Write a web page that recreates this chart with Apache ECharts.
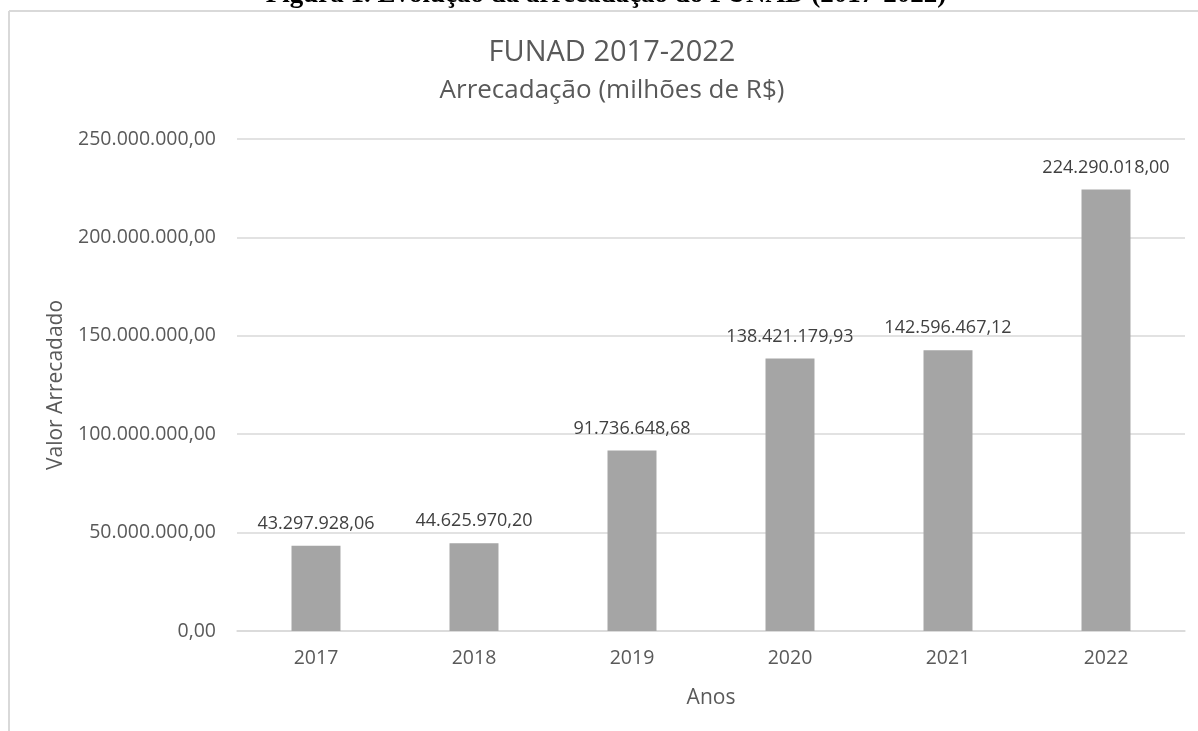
<!DOCTYPE html>
<html><head><meta charset="utf-8">
<script src="https://cdn.jsdelivr.net/npm/echarts@6/dist/echarts.min.js"></script>
<style>html,body{margin:0;padding:0;background:#fff}#c{width:1198px;height:731px}</style>
</head><body><div id="c"></div>
<script>
var categories = ['2017','2018','2019','2020','2021','2022'];
var values = [43297928.06, 44625970.20, 91736648.68, 138421179.93, 142596467.12, 224290018.00];
var yTicks = [0, 50000000, 100000000, 150000000, 200000000, 250000000];

function fmt(v){
  var s = v.toFixed(2).split('.');
  return s[0].replace(/\B(?=(\d{3})+(?!\d))/g,'.') + ',' + s[1];
}
var font = '"Open Sans", "Noto Sans", sans-serif';
var chart = echarts.init(document.getElementById('c'));
chart.setOption({
  animation:false,
  graphic:[
    {type:'text', x:606, y:-5, style:{text:'Figura 1. Evolução da arrecadação do FUNAD (2017-2022)', font:'bold 27px "Liberation Serif", serif', fill:'#000', align:'center', verticalAlign:'middle'}},
    {type:'rect', shape:{x:0,y:11,width:1198,height:12}, style:{fill:'#fff'}},
    {type:'line', shape:{x1:9,y1:11,x2:1198,y2:11}, style:{stroke:'#d9d9d9',lineWidth:2}},
    {type:'line', shape:{x1:9,y1:11,x2:9,y2:731}, style:{stroke:'#d9d9d9',lineWidth:2}}
  ],
  title:{text:'FUNAD 2017-2022', subtext:'Arrecadação (milhões de R$)', left:607, textAlign:'center', top:33,
    textStyle:{fontFamily:font, fontSize:29, fontWeight:'normal', color:'#595959'},
    subtextStyle:{fontFamily:font, fontSize:26, color:'#595959'}, itemGap:11},
  grid:{left:237, right:13, top:139, bottom:100, containLabel:false},
  xAxis:{type:'category', data:categories, name:'Anos', nameLocation:'middle', nameGap:57,
    nameTextStyle:{fontFamily:font, fontSize:21, color:'#595959'},
    axisLine:{lineStyle:{color:'#d9d9d9', width:1.5}}, axisTick:{show:false},
    axisLabel:{fontFamily:font, fontSize:19.5, color:'#595959', margin:17}},
  yAxis:{type:'value', min:0, max:250000000, interval:50000000, name:'Valor Arrecadado', nameLocation:'middle', nameGap:170,
    nameTextStyle:{fontFamily:font, fontSize:21, color:'#595959'},
    axisLine:{show:false}, axisTick:{show:false},
    splitLine:{lineStyle:{color:'#d9d9d9', width:1.5}},
    axisLabel:{fontFamily:font, fontSize:19.5, color:'#595959', margin:21, formatter:function(v){return fmt(v);}}},
  series:[{type:'bar', data:values, barWidth:'31%', itemStyle:{color:'#a5a5a5'},
    label:{show:true, position:'top', distance:13, fontFamily:font, fontSize:18, color:'#404040', formatter:function(p){return fmt(p.value);}}}]
});
</script></body></html>
